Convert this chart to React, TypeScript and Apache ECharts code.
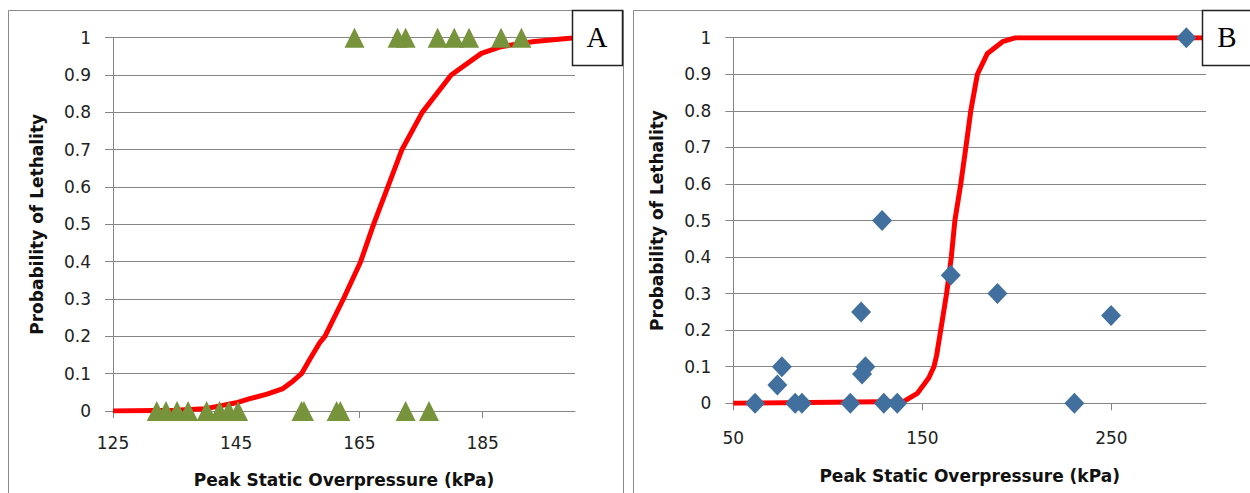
import React, { useEffect, useRef } from "react";
import * as echarts from "echarts";

// Panel A: fitted curve
const curveAx = [125, 135, 140, 142.8, 145, 147.2, 150, 152.6, 154.2, 155.6, 157, 158.6, 159.4, 162.4, 165.2, 167.3, 169.6, 171.9, 175.2, 179.9, 184.8, 188, 193.4, 200];
const curveAy = [0, 0.002, 0.006, 0.015, 0.022, 0.033, 0.045, 0.06, 0.08, 0.1, 0.14, 0.184, 0.2, 0.3, 0.4, 0.5, 0.6, 0.7, 0.8, 0.9, 0.958, 0.976, 0.99, 1];
// Panel A: observations
const obsAx = [164.2, 171.2, 172.5, 177.7, 180.4, 182.8, 188.0, 191.3, 132.1, 133.6, 135.4, 137.2, 140.2, 142.3, 143.8, 145.3, 155.6, 156.0, 161.3, 161.9, 172.5, 176.3];
const obsAy = [1, 1, 1, 1, 1, 1, 1, 1, 0, 0, 0, 0, 0, 0, 0, 0, 0, 0, 0, 0, 0, 0];

// Panel B: fitted curve
const curveBx = [50, 140.2, 147.3, 149.9, 153.4, 156.1, 157.5, 159.7, 162.8, 165.3, 167.2, 170.3, 173, 175.6, 179.1, 184.4, 192.4, 199.4, 300];
const curveBy = [0, 0.005, 0.027, 0.045, 0.07, 0.1, 0.13, 0.2, 0.3, 0.4, 0.5, 0.6, 0.7, 0.8, 0.9, 0.957, 0.989, 1, 1];
// Panel B: observations
const obsBx = [61.5, 73.3, 75.7, 82.7, 86.3, 111.9, 117.6, 118.1, 119.9, 128.7, 129.6, 136.7, 165, 189.7, 230.4, 249.8, 289.6];
const obsBy = [0, 0.05, 0.1, 0, 0, 0, 0.25, 0.08, 0.1, 0.5, 0, 0, 0.35, 0.3, 0, 0.24, 1];

const xTicksA = [125, 145, 165, 185];
const xTicksB = [50, 150, 250];
const xTitle = "Peak Static Overpressure (kPa)";
const yTitle = "Probability of Lethality";
const panelLabels = ["A", "B"];

const FONT = "DejaVu Sans";
const GRID = "#868686";

function pairs(xs: number[], ys: number[]) {
  return xs.map((x, i) => [x, ys[i]]);
}

export default function App() {
  const ref = useRef<HTMLDivElement>(null);
  useEffect(() => {
    if (!ref.current) return;
    const chart = echarts.init(ref.current, null, { renderer: "svg" });
    const xAxisBase = (min: number, max: number, ticks: number[], gridIndex: number, gap: number, margin: number) => ({
      type: "value",
      gridIndex,
      min,
      max,
      name: xTitle,
      nameLocation: "middle",
      nameGap: gap,
      nameTextStyle: { fontFamily: FONT, fontSize: 17, fontWeight: "bold", color: "#111" },
      axisLine: { show: true, lineStyle: { color: GRID, width: 1 } },
      axisTick: { show: true, length: 7, lineStyle: { color: GRID }, customValues: ticks },
      axisLabel: { fontFamily: FONT, fontSize: 17, color: "#222", margin, customValues: ticks },
      splitLine: { show: false },
    });
    const yAxisBase = (gridIndex: number) => ({
      type: "value",
      gridIndex,
      min: 0,
      max: 1,
      interval: 0.1,
      name: yTitle,
      nameLocation: "middle",
      nameGap: 68,
      nameRotate: 90,
      nameTextStyle: { fontFamily: FONT, fontSize: 17, fontWeight: "bold", color: "#111" },
      axisLine: { show: true, lineStyle: { color: GRID, width: 1 } },
      axisTick: { show: true, length: 8, lineStyle: { color: GRID } },
      axisLabel: { fontFamily: FONT, fontSize: 17, color: "#222", margin: 22 },
      splitLine: { show: true, lineStyle: { color: GRID, width: 1 } },
    });
    const panel = (x: number, w: number) => ({
      type: "rect",
      shape: { x: x + 0.5, y: 10.5, width: w, height: 600 },
      style: { fill: "none", stroke: "#8a8a8a", lineWidth: 1 },
      silent: true,
      z: 0,
    });
    const box = (x: number, label: string) => ({
      type: "group",
      z: 100,
      children: [
        {
          type: "rect",
          shape: { x: x + 0.5, y: 10.5, width: 50, height: 55 },
          style: { fill: "#fff", stroke: "#222", lineWidth: 1.5 },
          z: 100,
        },
        {
          type: "text",
          x: x + 25,
          y: 37,
          style: {
            text: label,
            fontFamily: "Liberation Serif",
            fontSize: 29,
            fill: "#000",
            align: "center",
            verticalAlign: "middle",
          },
          z: 101,
        },
      ],
    });
    chart.setOption({
      animation: false,
      backgroundColor: "#fff",
      grid: [
        { left: 113, top: 37.7, width: 462, height: 374, containLabel: false },
        { left: 733.3, top: 37.7, width: 472.7, height: 365.6, containLabel: false },
      ],
      xAxis: [xAxisBase(125, 200, xTicksA, 0, 60, 23), xAxisBase(50, 300, xTicksB, 1, 64, 26)],
      yAxis: [yAxisBase(0), yAxisBase(1)],
      graphic: [panel(8, 615), panel(633, 700), box(572, panelLabels[0]), box(1202, panelLabels[1])],
      series: [
        {
          type: "line",
          xAxisIndex: 0,
          yAxisIndex: 0,
          data: pairs(curveAx, curveAy),
          showSymbol: false,
          symbol: "none",
          lineStyle: { color: "#ff0000", width: 5 },
          z: 2,
        },
        {
          type: "scatter",
          xAxisIndex: 0,
          yAxisIndex: 0,
          data: pairs(obsAx, obsAy),
          symbol: "triangle",
          symbolSize: [20, 20],
          itemStyle: { color: "#77933C", opacity: 1 },
          z: 3,
        },
        {
          type: "line",
          xAxisIndex: 1,
          yAxisIndex: 1,
          data: pairs(curveBx, curveBy),
          showSymbol: false,
          symbol: "none",
          lineStyle: { color: "#ff0000", width: 5 },
          z: 2,
        },
        {
          type: "scatter",
          xAxisIndex: 1,
          yAxisIndex: 1,
          data: pairs(obsBx, obsBy),
          symbol: "diamond",
          symbolSize: [20, 21],
          itemStyle: { color: "#41709E", opacity: 1 },
          z: 3,
        },
      ],
    });
    return () => chart.dispose();
  }, []);
  return (
    <div
      ref={ref}
      style={{ position: "fixed", left: 0, top: 0, width: 1250, height: 493, background: "#fff" }}
    />
  );
}
